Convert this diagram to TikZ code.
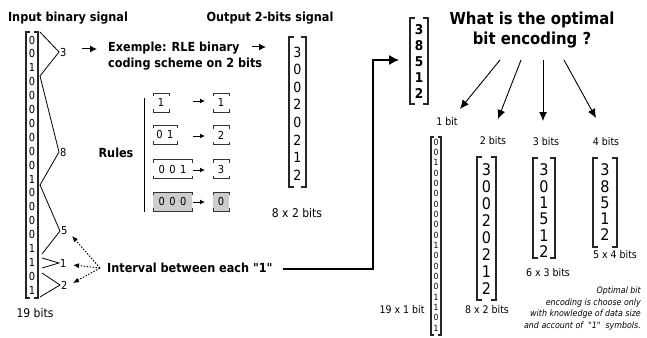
\documentclass[tikz,border=0pt]{standalone}
\usepackage{fontspec}
\setmainfont{DejaVu Sans Condensed}[Ligatures=TeXOff]
\usetikzlibrary{arrows.meta}

% vertical column bracket: left x, right x, top y, bottom y, serif length
\newcommand\colbrk[5]{%
  \draw[brk] (#1+#5,#3) -- (#1,#3) -- (#1,#4) -- (#1+#5,#4);
  \draw[brk] (#2-#5,#3) -- (#2,#3) -- (#2,#4) -- (#2-#5,#4);}

% digits of a column: name prefix, x, first y, step, font size, list
\newcommand\coldigits[6]{%
  \foreach \d [count=\i from 0] in {#6}
    \node[font=\fontsize{#5}{#5}\selectfont, inner sep=0pt] (#1\i) at (#2,#3+\i*#4) {\d};}

% rule frame: name, left x, right x, centre y, text, fill
\newcommand\rulebox[6]{%
  \fill[#6] (#2,#4-9.5) rectangle (#3,#4+9.5);
  \draw[boxline] (#2,#4-6.5) -- (#2,#4-9.5) -- (#3,#4-9.5) -- (#3,#4-6.5);
  \draw[boxline] (#2,#4+6.5) -- (#2,#4+9.5) -- (#3,#4+9.5) -- (#3,#4+6.5);
  \node[boxtxt] (#1) at ({(#2+#3)/2},#4) {#5};}

\tikzset{
  brk/.style={line width=1.2pt, black!85},
  boxline/.style={line width=0.9pt, black!80},
  boxtxt/.style={font=\fontsize{11}{11}\selectfont, inner sep=0pt},
  zig/.style={line width=0.8pt, black},
  head/.style={font=\bfseries\fontsize{12.5}{15}\selectfont, inner sep=0pt},
  lbl/.style={font=\fontsize{11}{11}\selectfont, inner sep=0pt},
  small/.style={font=\fontsize{10.5}{10.5}\selectfont, inner sep=0pt},
  note/.style={font=\itshape\fontsize{8.8}{11.4}\selectfont, inner sep=0pt, align=right},
  conn/.style={line width=1.2pt, black},
  bigarrow/.style={line width=0.9pt, black, -{Latex[length=9pt,width=8pt]}},
  smallarrow/.style={line width=1pt, black, -{Latex[length=5pt,width=5pt]}},
  dotarrow/.style={line width=0.9pt, black, dash pattern=on 1.5pt off 1.5pt,
    -{Latex[length=6pt,width=5pt]}},
}

\begin{document}
\begin{tikzpicture}[x=1pt,y=-1pt]
\useasboundingbox (0,0) rectangle (647,337);

% ---- headings
\node[head] (inhead) at (68,18) {Input binary signal};
\node[head] (outhead) at (270,18) {Output 2-bits signal};

% ---- input column
\colbrk{26}{38}{32}{298}{4}
\coldigits{in}{32}{40}{13.9}{11}{0,0,1,0,0,0,0,0,0,0,1,0,0,0,0,1,1,0,1}
\node[lbl, font=\fontsize{12}{12}\selectfont] (inbits) at (35,313) {19 bits};

% ---- intervals between ones
\coordinate (z0) at (40,32);
\coordinate (z1) at (40,76);
\coordinate (z2) at (40,185);
\coordinate (z3) at (42,254);
\coordinate (z4) at (42,258);
\coordinate (z5) at (42,268);
\coordinate (z6) at (42,273);
\coordinate (z7) at (40,297);
\coordinate (t3) at (59,52);
\coordinate (t8) at (59,152);
\coordinate (t5) at (60,231);
\coordinate (t1) at (59,263);
\coordinate (t2) at (60,285);
\draw[zig] (z0) -- (t3) -- (z1) -- (t8) -- (z2) -- (t5) -- (z3);
\draw[zig] (z4) -- (t1) -- (z5);
\draw[zig] (z6) -- (t2) -- (z7);
\node[lbl, anchor=west] (n3) at ([xshift=1pt]t3) {3};
\node[lbl, anchor=west] (n8) at ([xshift=1pt]t8) {8};
\node[lbl, anchor=west] (n5) at ([xshift=1pt]t5) {5};
\node[lbl, anchor=west] (n1) at ([xshift=1pt]t1) {1};
\node[lbl, anchor=west] (n2) at ([xshift=1pt]t2) {2};

% ---- example caption
\node[head, anchor=north west, align=left, font=\bfseries\fontsize{12.5}{16}\selectfont]
  (example) at (108,42) {Exemple: RLE binary\\coding scheme on 2 bits};
\coordinate (ea0) at (82,49);
\coordinate (ea1) at (97,49);
\draw[smallarrow, -{Latex[length=7pt,width=7pt]}] (ea0) -- (ea1);
\coordinate (eb0) at (252,47);
\coordinate (eb1) at (266,47);
\draw[smallarrow, -{Latex[length=7pt,width=7pt]}] (eb0) -- (eb1);

% ---- coding rules
\node[head] (rules) at (116,153) {Rules};
\coordinate (rl0) at (144,98);
\coordinate (rl1) at (144,212);
\draw[line width=1pt] (rl0) -- (rl1);
\rulebox{ra1}{153}{169}{102.5}{1}{white}
\rulebox{ra2}{153}{177}{134.5}{0\hspace{4.5pt}1}{white}
\rulebox{ra3}{153}{192}{169}{0\hspace{4.5pt}0\hspace{4.5pt}1}{white}
\rulebox{ra4}{153}{192}{201.5}{0\hspace{4.5pt}0\hspace{4.5pt}0}{black!20}
\rulebox{rb1}{213}{229}{102.5}{1}{white}
\rulebox{rb2}{213}{229}{135}{2}{white}
\rulebox{rb3}{213}{229}{169}{3}{white}
\rulebox{rb4}{213}{229}{201.5}{0}{black!20}
\foreach \r/\y in {1/101,2/136,3/170,4/202}{
  \coordinate (rs\r) at (193,\y);
  \coordinate (re\r) at (205,\y);
  \draw[smallarrow] (rs\r) -- (re\r);
}

% ---- output column
\colbrk{289}{306}{37}{187}{5}
\coldigits{out}{297.5}{52}{17.57}{14}{3,0,0,2,0,2,1,2}
\node[lbl, font=\fontsize{12}{12}\selectfont] (outbits) at (297,213) {8 x 2 bits};

% ---- interval caption and its connector
\node[head, anchor=west] (interval) at (107,268) {Interval between each "1"};
\coordinate (src) at (100,268);
\draw[dotarrow] (src) -- (72,236);
\draw[dotarrow] (src) -- (73,265);
\draw[dotarrow] (src) -- (73,283);
\coordinate (iv) at (283,269);
\coordinate (bold-in) at (399,60);
\draw[conn, -{Latex[length=10pt,width=10pt]}] (iv) -- (373,269) |- (bold-in);

% ---- interval values
\colbrk{410}{428}{18}{104}{5}
\foreach \d [count=\i from 0] in {3,8,5,1,2}
  \node[font=\bfseries\fontsize{13.5}{13.5}\selectfont, inner sep=0pt] (iv\i) at (419,30+\i*15.8) {\d};

% ---- question
\node[head, align=center, font=\bfseries\fontsize{16.5}{20}\selectfont] (question) at (532,30)
  {What is the optimal\\bit encoding ?};
\coordinate (q1) at (500,60);
\coordinate (q2) at (521,60);
\coordinate (q3) at (543,60);
\coordinate (q4) at (564,60);
\coordinate (a1) at (460,109);
\coordinate (a2) at (498,119);
\coordinate (a3) at (543,121);
\coordinate (a4) at (596,118);
\draw[bigarrow] (q1) -- (a1);
\draw[bigarrow] (q2) -- (a2);
\draw[bigarrow] (q3) -- (a3);
\draw[bigarrow] (q4) -- (a4);

\node[small] (l1) at (447,122) {1 bit};
\node[small] (l2) at (493,141) {2 bits};
\node[small] (l3) at (546,142) {3 bits};
\node[small] (l4) at (606,142) {4 bits};

% ---- 1 bit
\colbrk{431}{441}{137}{335}{3}
\coldigits{b1}{436}{142}{10.33}{8.5}{0,0,1,0,0,0,0,0,0,0,1,0,0,0,0,1,1,0,1}
\node[small] (s1) at (402,310) {19 x 1 bit};

% ---- 2 bits
\colbrk{477}{496}{157}{300}{5}
\coldigits{b2}{486.5}{170}{17}{16}{3,0,0,2,0,2,1,2}
\node[small] (s2) at (487,310) {8 x 2 bits};

% ---- 3 bits
\colbrk{533}{555}{158}{258}{5}
\coldigits{b3}{544}{170}{16.4}{16}{3,0,1,5,1,2}
\node[small] (s3) at (548,273) {6 x 3 bits};

% ---- 4 bits
\colbrk{593}{617}{158}{247}{5}
\coldigits{b4}{605}{170}{16.25}{16}{3,8,5,1,2}
\node[small] (s4) at (615,255) {5 x 4 bits};

% ---- note
\node[note, anchor=north east] (note) at (641,287)
  {Optimal bit\\encoding is choose only\\with knowledge of data size\\and account of \ "1" \ symbols.};
\end{tikzpicture}
\end{document}
